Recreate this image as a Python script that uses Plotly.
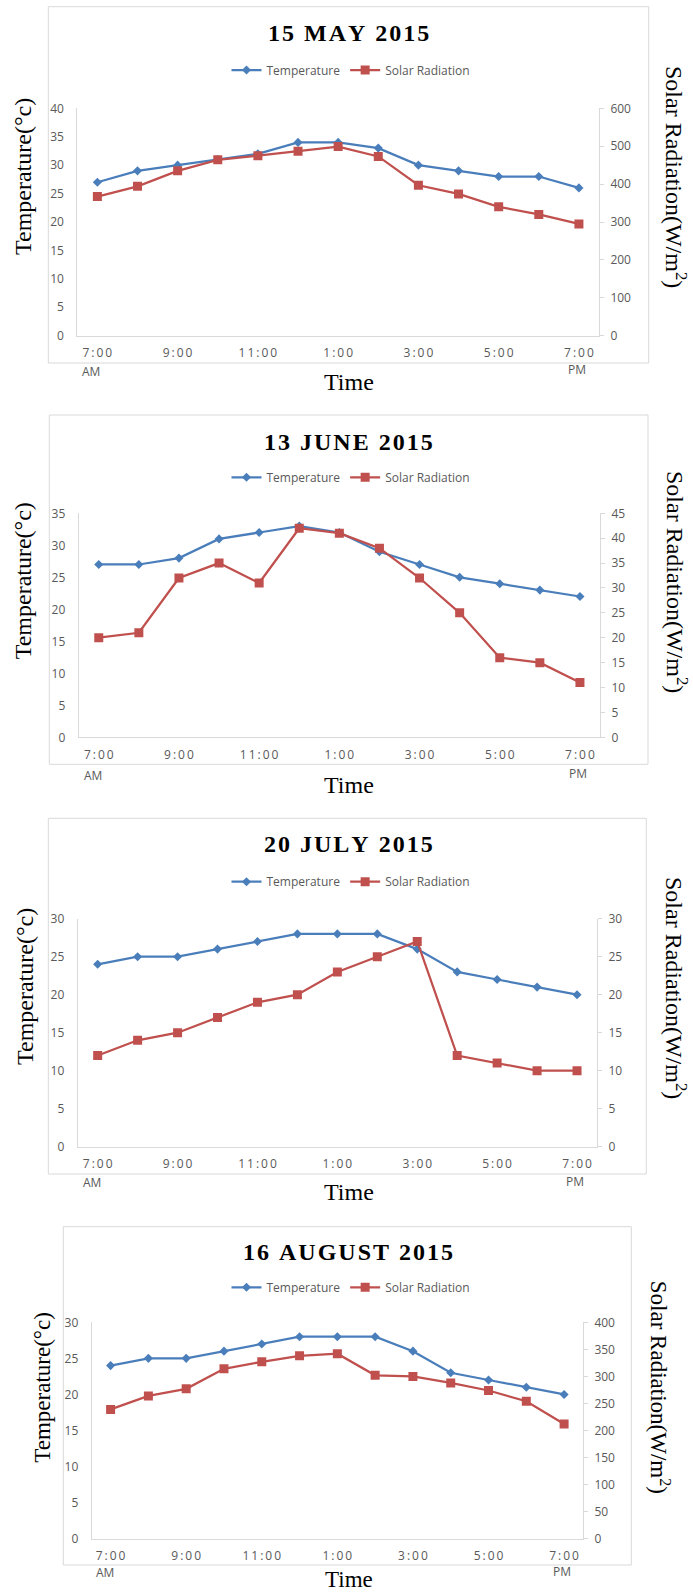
import plotly.graph_objects as go

# ---------------- data ----------------
hours = ["7:00 AM", "8:00 AM", "9:00 AM", "10:00 AM", "11:00 AM", "12:00 PM", "1:00 PM",
         "2:00 PM", "3:00 PM", "4:00 PM", "5:00 PM", "6:00 PM", "7:00 PM"]
tick_hours = ["7:00 AM", "9:00 AM", "11:00 AM", "1:00 PM", "3:00 PM", "5:00 PM", "7:00 PM"]
tick_labels = ["7:00", "9:00", "11:00", "1:00", "3:00", "5:00", "7:00"]

titles = ["15 MAY 2015", "13 JUNE 2015", "20 JULY 2015", "16 AUGUST 2015"]

may_temp = [27, 29, 30, 31, 32, 34, 34, 33, 30, 29, 28, 28, 26]
may_solar = [367, 394, 435, 464, 475, 487, 499, 473, 397, 374, 340, 320, 295]
june_temp = [27, 27, 28, 31, 32, 33, 32, 29, 27, 25, 24, 23, 22]
june_solar = [20, 21, 32, 35, 31, 42, 41, 38, 32, 25, 16, 15, 11]
july_temp = [24, 25, 25, 26, 27, 28, 28, 28, 26, 23, 22, 21, 20]
july_solar = [12, 14, 15, 17, 19, 20, 23, 25, 27, 12, 11, 10, 10]
aug_temp = [24, 25, 25, 26, 27, 28, 28, 28, 26, 23, 22, 21, 20]
aug_solar = [239, 264, 277, 314, 327, 338, 342, 302, 300, 288, 274, 254, 212]

temps = [may_temp, june_temp, july_temp, aug_temp]
solars = [may_solar, june_solar, july_solar, aug_solar]
temp_max = [40, 35, 30, 30]
solar_max = [600, 45, 30, 400]
solar_dtick = [100, 5, 5, 50]

# ---------------- layout geometry (pixels) ----------------
W, H = 693, 1593
geom = [
    dict(px0=77.3, px1=599, top=108.3, bot=335.7, box=(48.3, 6.7, 648.7, 363), title_y=33.3,
         legend_y=70, tl=(23, 177), sl=(676, 177), time_y=382, am_y=371, fs=24),
    dict(px0=78.7, px1=600, top=513.3, bot=737.3, box=(49.3, 415, 648, 764.3), title_y=441.7,
         legend_y=477.3, tl=(23.3, 581), sl=(677, 582), time_y=785, am_y=775, fs=24),
    dict(px0=77.7, px1=597, top=918.7, bot=1146.7, box=(48.3, 818.3, 646.3, 1174), title_y=844,
         legend_y=881.7, tl=(25, 987), sl=(676, 988), time_y=1191.7, am_y=1182, fs=24),
    dict(px0=91.7, px1=583, top=1322.3, bot=1538.7, box=(63.3, 1226.7, 631.3, 1565), title_y=1252.3,
         legend_y=1287.3, tl=(41.7, 1387), sl=(659.7, 1387.5), time_y=1579.5, am_y=1572.5, fs=23),
]


def X(px):
    return px / W


def Y(py):
    return 1 - py / H


BLUE = "#4a7ebb"
RED = "#c0504d"
GRAY = "#595959"
LINE = "#d9d9d9"
SERIF = "Liberation Serif, Times New Roman, serif"
SANS = "Open Sans, sans-serif"


def spaced(s, sp="\u2009"):
    return sp.join(list(s))


fig = go.Figure()
layout = dict(width=W, height=H, margin=dict(l=0, r=0, t=0, b=0, autoexpand=False),
              paper_bgcolor="white", plot_bgcolor="white", showlegend=True)
annotations = []
shapes = []

for k in range(4):
    g = geom[k]
    xa = "x" if k == 0 else f"x{k + 1}"
    ya = "y" if k == 0 else f"y{2 * k + 1}"
    ya2 = f"y{2 * k + 2}"
    lg = "legend" if k == 0 else f"legend{k + 1}"

    fig.add_trace(go.Scatter(x=hours, y=temps[k], name="Temperature", mode="lines+markers",
                             line=dict(color=BLUE, width=2.25),
                             marker=dict(symbol="diamond", size=7, color=BLUE),
                             xaxis=xa, yaxis=ya, legend=lg))
    fig.add_trace(go.Scatter(x=hours, y=solars[k], name="Solar Radiation", mode="lines+markers",
                             line=dict(color=RED, width=2.25),
                             marker=dict(symbol="square", size=9, color=RED),
                             xaxis=xa, yaxis=ya2, legend=lg))

    xkey = "xaxis" if k == 0 else f"xaxis{k + 1}"
    ykey = "yaxis" if k == 0 else f"yaxis{2 * k + 1}"
    y2key = f"yaxis{2 * k + 2}"

    layout[xkey] = dict(domain=[X(g["px0"]), X(g["px1"])], anchor=ya, type="category",
                        categoryorder="array", categoryarray=hours, range=[-0.5, 12.5],
                        tickmode="array", tickvals=tick_hours,
                        ticktext=[spaced(t) for t in tick_labels],
                        showline=True, linecolor=LINE, linewidth=1, ticks="",
                        showgrid=False, zeroline=False, ticklabelstandoff=6,
                        tickfont=dict(family=SANS, size=12, color=GRAY))
    layout[ykey] = dict(domain=[Y(g["bot"]), Y(g["top"])], anchor=xa, range=[0, temp_max[k]],
                        dtick=5, tick0=0, showline=True, linecolor=LINE, linewidth=1, ticks="",
                        showgrid=False, zeroline=False, ticklabelstandoff=10,
                        tickfont=dict(family=SANS, size=12, color=GRAY))
    layout[y2key] = dict(overlaying=ya, side="right", anchor=xa, range=[0, solar_max[k]],
                         dtick=solar_dtick[k], tick0=0, showline=True, linecolor=LINE, linewidth=1,
                         ticks="outside", ticklen=4, tickcolor=LINE, showgrid=False, zeroline=False,
                         ticklabelstandoff=4, tickfont=dict(family=SANS, size=12, color=GRAY))
    layout[lg] = dict(orientation="h", x=X(351), xanchor="center", y=Y(g["legend_y"]),
                      yanchor="middle", font=dict(family=SANS, size=12, color=GRAY),
                      itemwidth=30, bgcolor="rgba(0,0,0,0)", tracegroupgap=0)

    x0, y0, x1, y1 = g["box"]
    shapes.append(dict(type="rect", xref="paper", yref="paper", x0=X(x0), x1=X(x1),
                       y0=Y(y1), y1=Y(y0), line=dict(color=LINE, width=1), layer="below"))

    annotations.append(dict(text=spaced(titles[k], "\u200a"), xref="paper", yref="paper",
                            x=X(348), y=Y(g["title_y"]), xanchor="center", yanchor="middle",
                            showarrow=False, font=dict(family=SERIF, size=24, color="black",
                                                       weight="bold")))
    annotations.append(dict(text="Temperature(°c)", xref="paper", yref="paper",
                            x=X(g["tl"][0]), y=Y(g["tl"][1]), xanchor="center", yanchor="middle",
                            textangle=-90, showarrow=False,
                            font=dict(family=SERIF, size=g["fs"], color="black")))
    annotations.append(dict(text="Solar Radiation(W/m<sup>2</sup>)", xref="paper", yref="paper",
                            x=X(g["sl"][0]), y=Y(g["sl"][1]), xanchor="center", yanchor="middle",
                            textangle=90, showarrow=False,
                            font=dict(family=SERIF, size=g["fs"], color="black")))
    annotations.append(dict(text="Time", xref="paper", yref="paper",
                            x=X(349), y=Y(g["time_y"]), xanchor="center", yanchor="middle",
                            showarrow=False, font=dict(family=SERIF, size=g["fs"], color="black")))
    annotations.append(dict(text="AM", xref=xa, yref="paper", x=hours[0], xshift=-6,
                            y=Y(g["am_y"]), xanchor="center", yanchor="middle", showarrow=False,
                            font=dict(family=SANS, size=12, color=GRAY)))
    annotations.append(dict(text="PM", xref=xa, yref="paper", x=hours[-1], xshift=-2,
                            y=Y(g["am_y"] - 1), xanchor="center", yanchor="middle", showarrow=False,
                            font=dict(family=SANS, size=12, color=GRAY)))

layout["annotations"] = annotations
layout["shapes"] = shapes
fig.update_layout(**layout)
fig.write_html("out.html", config={"displayModeBar": False},
               post_script="document.body.style.margin='0';")
